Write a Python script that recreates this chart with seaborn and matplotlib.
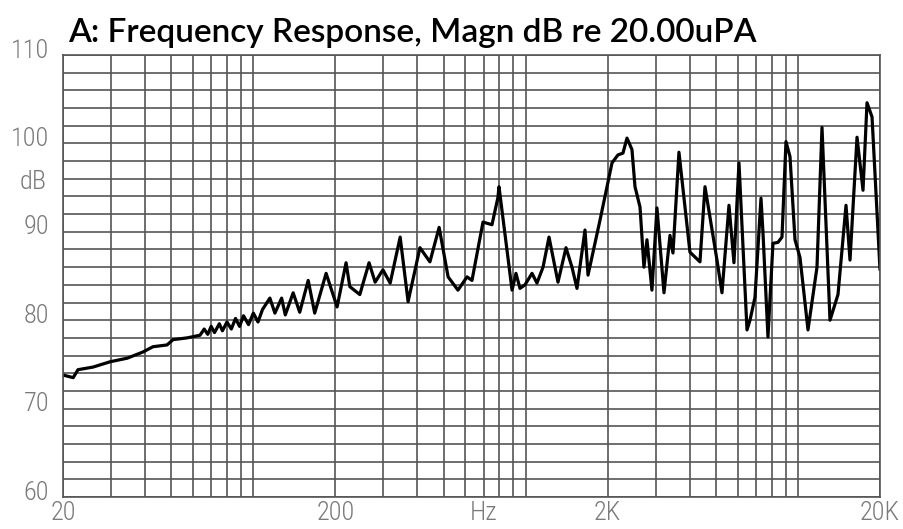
import numpy as np
import pandas as pd
import matplotlib
matplotlib.use('Agg')
import matplotlib.pyplot as plt
import matplotlib.transforms as mtransforms
from matplotlib import font_manager
import seaborn as sns

# frequency response (Hz, dB)
freq_hz = [20, 21.8, 22.7, 25.8, 29.8, 34.4, 39.3, 42.8, 48.2, 50.7, 57.1,
           63.7, 66, 68, 70, 72, 75, 77, 80, 83, 86, 89, 92, 96, 100, 104, 108,
           115, 120, 127, 131, 140, 148, 159, 168, 185, 203, 219, 226, 246,
           266, 280, 299, 318, 346, 370, 409, 445, 481, 519, 564, 609, 635,
           697, 752, 791, 798, 891, 921, 953, 994, 1055, 1100, 1158, 1218,
           1314, 1406, 1479, 1543, 1651, 1694, 1874, 2075, 2182, 2276, 2355,
           2456, 2520, 2629, 2718, 2788, 2908, 3034, 3220, 3387, 3474, 3654,
           4010, 4365, 4554, 5040, 5258, 5578, 5818, 6070, 6496, 6662, 6950,
           7312, 7436, 7756, 8092, 8440, 8732, 9032, 9344, 9748, 10168, 10880,
           11740, 12248, 13104, 14020, 15004, 15520, 16468, 17324, 17920,
           18696, 20000]
level_db = [73.8, 73.5, 74.4, 74.7, 75.3, 75.7, 76.4, 77.0, 77.2, 77.8, 78.0,
            78.3, 79.0, 78.4, 79.3, 78.6, 79.6, 78.8, 79.8, 79.0, 80.2, 79.3, 80.5, 79.5, 80.8, 79.8, 81.2,
            82.5, 80.8, 82.5, 80.6, 83.1, 80.9, 84.5, 80.8, 85.3, 81.5, 86.5, 83.8, 82.9,
            86.5, 84.3, 85.7, 84.2, 89.4, 82.1, 88.2, 86.6, 90.5, 84.9, 83.4, 84.9, 84.5,
            91.1, 90.8, 93.9, 95.1, 83.4, 85.3, 83.6, 84.0, 85.3, 84.2, 86.0, 89.4,
            84.3, 88.2, 86.0, 83.6, 90.2, 85.1, 91.3, 97.8, 98.7, 98.9, 100.6,
            99.3, 95.1, 92.8, 86.0, 89.1, 83.4, 92.7, 83.1, 89.6, 87.6, 99.0,
            87.7, 86.6, 95.1, 86.8, 83.1, 93.0, 86.5, 97.8, 78.9, 80.0, 82.6,
            93.8, 89.9, 78.1, 88.7, 88.8, 89.4, 100.2, 98.5, 89.1, 87.1, 78.9,
            86.0, 101.8, 80.0, 82.9, 93.0, 86.8, 100.7, 94.7, 104.6,
            103.0, 85.7]

x_major = [20, 200, 700, 2000, 20000]
x_labels = ['20', '200', 'Hz', '2K', '20K']
y_major = [60, 70, 80, 90, 100, 110]

df = pd.DataFrame({'freq': freq_hz, 'db': level_db})

sns.set_style('white')

# pick a narrow font for the axis labels if one is installed
installed = {f.name for f in font_manager.fontManager.ttflist}
tick_font = 'DejaVu Sans'
for name in ['Liberation Sans Narrow', 'DejaVu Sans Condensed', 'Roboto Condensed']:
    if name in installed:
        tick_font = name
        break
plt.rcParams['font.family'] = [tick_font, 'DejaVu Sans']
tick_size = 19 if tick_font != 'DejaVu Sans' else 15

fig = plt.figure(figsize=(9.04, 5.29), dpi=100)
ax = fig.add_axes([63/904, 32/529, 817/904, 442/529])

sns.lineplot(data=df, x='freq', y='db', color='black', linewidth=2.3, ax=ax, sort=False)

ax.set_xscale('log')
ax.set_xlim(20, 20000)
ax.set_ylim(60, 110)

# grid every 1-9 per decade and every 2 dB
minor_x = [m * 10**e for e in range(1, 5) for m in range(1, 10)]
minor_x = [v for v in minor_x if 20 < v < 20000 and v not in x_major]
ax.set_xticks(x_major)
ax.set_xticklabels(x_labels)
ax.set_xticks(minor_x, minor=True)
ax.xaxis.set_minor_formatter(matplotlib.ticker.NullFormatter())
ax.set_yticks(y_major)
ax.set_yticks(np.arange(60, 111, 2), minor=True)
ax.grid(True, which='both', color='#555555', linewidth=1.2)
ax.set_axisbelow(True)

ax.tick_params(which='both', length=0)
ax.tick_params(axis='y', pad=10, labelsize=tick_size, labelcolor='#7a7a7a')
ax.tick_params(axis='x', pad=3, labelsize=tick_size, labelcolor='#7a7a7a')
for lab in ax.get_xticklabels() + ax.get_yticklabels():
    lab.set_fontweight('light')
for s in ax.spines.values():
    s.set_color('#555555')
    s.set_linewidth(1.2)
ax.set_xlabel('')
ax.set_ylabel('')

# y labels sit a little above their grid lines in the original
shift = mtransforms.ScaledTranslation(0, 5/72, fig.dpi_scale_trans)
for lab in ax.get_yticklabels():
    lab.set_transform(lab.get_transform() + shift)

fig.text(20/904, 1 - 182/529, 'dB', ha='left', va='center', fontsize=tick_size,
         fontweight='light', color='#7a7a7a')

fig.text(68/904, 1 - 42/529, 'A: Frequency Response, Magn dB re 20.00uPA',
         ha='left', va='baseline', fontsize=24, fontweight='semibold',
         family=['Lato', 'DejaVu Sans'], color='black')

plt.savefig('out.png', dpi=100)
